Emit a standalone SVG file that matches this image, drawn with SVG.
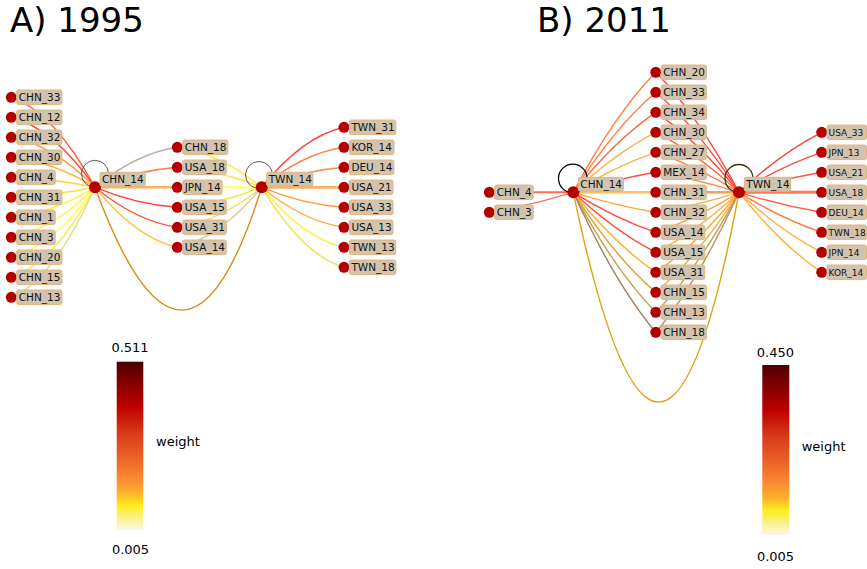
<svg xmlns="http://www.w3.org/2000/svg" width="867" height="569" viewBox="0 0 867 569">
<defs>
<linearGradient id="cmap" x1="0" y1="0" x2="0" y2="1">
<stop offset="0" stop-color="#4d0000"/>
<stop offset="0.14" stop-color="#8a0000"/>
<stop offset="0.27" stop-color="#c00000"/>
<stop offset="0.42" stop-color="#d83a18"/>
<stop offset="0.57" stop-color="#ec6228"/>
<stop offset="0.70" stop-color="#fa8c32"/>
<stop offset="0.78" stop-color="#ffb02a"/>
<stop offset="0.86" stop-color="#fcf020"/>
<stop offset="0.92" stop-color="#faf080"/>
<stop offset="1" stop-color="#fcf8e6"/>
</linearGradient>
</defs>
<style>
.t{font-family:"DejaVu Sans","Liberation Sans",sans-serif;font-size:10.5px;fill:#111}
.ts{font-family:"DejaVu Sans","Liberation Sans",sans-serif;font-size:9px;fill:#111}
.big{font-family:"DejaVu Sans","Liberation Sans",sans-serif;font-size:34px;fill:#000}
.cb{font-family:"DejaVu Sans","Liberation Sans",sans-serif;font-size:13px;fill:#000}
.nd{fill:#b50000}
.lb{fill:#d0c4b0;stroke:#e2b57a;stroke-width:1}
#edges path{fill:none;stroke-width:1.4}
#edges circle{fill:none}
</style>
<rect width="867" height="569" fill="#ffffff"/>
<text class="big" x="10" y="32">A) 1995</text>
<text class="big" x="537" y="32">B) 2011</text>

<g id="edges">
<!-- A: left column to CHN_14 -->
<path d="M11.3,97.3 Q53.15,110.8 95,187.3" stroke="#ff5540"/>
<path d="M11.3,117.3 Q53.15,127.8 95,187.3" stroke="#ff4a3a"/>
<path d="M11.3,137.3 Q53.15,144.8 95,187.3" stroke="#ff9a40"/>
<path d="M11.3,157.3 Q53.15,161.8 95,187.3" stroke="#ffb040"/>
<path d="M11.3,177.3 Q53.15,178.8 95,187.3" stroke="#ffd540"/>
<path d="M11.3,197.3 Q53.15,195.8 95,187.3" stroke="#ffe040"/>
<path d="M11.3,217.3 Q53.15,212.8 95,187.3" stroke="#fff040"/>
<path d="M11.3,237.3 Q53.15,229.8 95,187.3" stroke="#fff540"/>
<path d="M11.3,257.3 Q53.15,246.8 95,187.3" stroke="#ffff40"/>
<path d="M11.3,277.3 Q53.15,263.8 95,187.3" stroke="#f5ee40"/>
<path d="M11.3,297.3 Q53.15,280.8 95,187.3" stroke="#e0dc80"/>
<!-- A: CHN_14 to middle -->
<path d="M95,187.3 Q136.15,153.3 177.3,147.3" stroke="#b4b0a0"/>
<path d="M95,187.3 Q136.15,170.3 177.3,167.3" stroke="#ff8040"/>
<path d="M95,187.3 L177.3,187.3" stroke="#ffb060" style="stroke-width:2.6"/>
<path d="M95,187.3 Q136.15,204.3 177.3,207.3" stroke="#ff4a3a"/>
<path d="M95,187.3 Q136.15,221.3 177.3,227.3" stroke="#ff5a3a"/>
<path d="M95,187.3 Q136.15,238.3 177.3,247.3" stroke="#ffc440"/>
<!-- A: middle to TWN_14 -->
<path d="M177.3,147.3 Q219.5,153.3 261.7,187.3" stroke="#ffe840"/>
<path d="M177.3,167.3 Q219.5,170.3 261.7,187.3" stroke="#ffe040"/>
<path d="M177.3,187.3 L261.7,187.3" stroke="#ffff80" style="stroke-width:2.6"/>
<path d="M177.3,207.3 Q219.5,204.3 261.7,187.3" stroke="#f0e840"/>
<path d="M177.3,227.3 Q219.5,221.3 261.7,187.3" stroke="#e8e070"/>
<path d="M177.3,247.3 Q219.5,238.3 261.7,187.3" stroke="#d0c890"/>
<!-- A: TWN_14 to right column -->
<path d="M261.7,187.3 Q302.85,136.3 344,127.3" stroke="#ff4040"/>
<path d="M261.7,187.3 Q302.85,153.3 344,147.3" stroke="#ff8040"/>
<path d="M261.7,187.3 Q302.85,170.3 344,167.3" stroke="#ff9040"/>
<path d="M261.7,187.3 L344,187.3" stroke="#ffb060" style="stroke-width:2.8"/>
<path d="M261.7,187.3 Q302.85,204.3 344,207.3" stroke="#ffa040"/>
<path d="M261.7,187.3 Q302.85,221.3 344,227.3" stroke="#ffb040"/>
<path d="M261.7,187.3 Q302.85,238.3 344,247.3" stroke="#fff040"/>
<path d="M261.7,187.3 Q302.85,255.3 344,267.3" stroke="#e8e450"/>
<!-- A: arc and loops -->
<path d="M95,187.3 Q185,433 261.7,187.3" stroke="#d88a10"/>
<circle cx="95" cy="173.8" r="13.5" stroke="#333333" stroke-width="0.8"/>
<circle cx="259" cy="175" r="13.5" stroke="#333333" stroke-width="0.8"/>

<!-- B: left -->
<path d="M489.3,192.3 L573.3,192.3" stroke="#ff6a55" style="stroke-width:2"/>
<path d="M489.3,212.3 Q531.3,205.3 573.3,192.3" stroke="#ff7050"/>
<!-- B: CHN_14 to middle -->
<path d="M573.3,192.3 Q614.55,114.3 655.8,72.3" stroke="#ff8040"/>
<path d="M573.3,192.3 Q614.55,127.3 655.8,92.3" stroke="#ff8040"/>
<path d="M573.3,192.3 Q614.55,140.3 655.8,112.3" stroke="#ff6a40"/>
<path d="M573.3,192.3 Q614.55,153.3 655.8,132.3" stroke="#ffb040"/>
<path d="M573.3,192.3 Q614.55,166.3 655.8,152.3" stroke="#ffb040"/>
<path d="M573.3,192.3 Q614.55,179.3 655.8,172.3" stroke="#ff4a40"/>
<path d="M573.3,192.3 L655.8,192.3" stroke="#ffc060" style="stroke-width:2.4"/>
<path d="M573.3,192.3 Q614.55,205.3 655.8,212.3" stroke="#ffa840"/>
<path d="M573.3,192.3 Q614.55,218.3 655.8,232.3" stroke="#ff4a3a"/>
<path d="M573.3,192.3 Q614.55,231.3 655.8,252.3" stroke="#ff4a3a"/>
<path d="M573.3,192.3 Q614.55,244.3 655.8,272.3" stroke="#ffb030"/>
<path d="M573.3,192.3 Q614.55,257.3 655.8,292.3" stroke="#e0a030"/>
<path d="M573.3,192.3 Q614.55,270.3 655.8,312.3" stroke="#c8a050"/>
<path d="M573.3,192.3 Q614.55,283.3 655.8,332.3" stroke="#a08060"/>
<!-- B: middle to TWN_14 -->
<path d="M655.8,72.3 Q697.4,114.3 739,192.3" stroke="#ff4a40"/>
<path d="M655.8,92.3 Q697.4,127.3 739,192.3" stroke="#ff4a40"/>
<path d="M655.8,112.3 Q697.4,140.3 739,192.3" stroke="#ff4a40"/>
<path d="M655.8,132.3 Q697.4,153.3 739,192.3" stroke="#ff6040"/>
<path d="M655.8,152.3 Q697.4,166.3 739,192.3" stroke="#ff7a40"/>
<path d="M655.8,172.3 Q697.4,179.3 739,192.3" stroke="#ff9050"/>
<path d="M655.8,192.3 L739,192.3" stroke="#ff9a60" style="stroke-width:2.4"/>
<path d="M655.8,212.3 Q697.4,205.3 739,192.3" stroke="#ffb040"/>
<path d="M655.8,232.3 Q697.4,218.3 739,192.3" stroke="#ffa040"/>
<path d="M655.8,252.3 Q697.4,231.3 739,192.3" stroke="#ffb040"/>
<path d="M655.8,272.3 Q697.4,244.3 739,192.3" stroke="#ffa840"/>
<path d="M655.8,292.3 Q697.4,257.3 739,192.3" stroke="#f0b040"/>
<path d="M655.8,312.3 Q697.4,270.3 739,192.3" stroke="#c0a060"/>
<path d="M655.8,332.3 Q697.4,283.3 739,192.3" stroke="#b89060"/>
<!-- B: TWN_14 to right -->
<path d="M739,192.3 Q780.35,153.3 821.7,132.3" stroke="#ff4040"/>
<path d="M739,192.3 Q780.35,166.3 821.7,152.3" stroke="#ff4a40"/>
<path d="M739,192.3 Q780.35,179.3 821.7,172.3" stroke="#ff5a40"/>
<path d="M739,192.3 L821.7,192.3" stroke="#ff7a55" style="stroke-width:3"/>
<path d="M739,192.3 Q780.35,205.3 821.7,212.3" stroke="#ff6040"/>
<path d="M739,192.3 Q780.35,218.3 821.7,232.3" stroke="#ff7a40"/>
<path d="M739,192.3 Q780.35,231.3 821.7,252.3" stroke="#ffb040"/>
<path d="M739,192.3 Q780.35,244.3 821.7,272.3" stroke="#ffb040"/>
<!-- B: arc and loops -->
<path d="M573.3,192.3 Q661,612 739,192.3" stroke="#e0a010"/>
<circle cx="572.8" cy="178.5" r="14.3" stroke="#000000" stroke-width="1.3"/>
<circle cx="739" cy="178.5" r="14" stroke="#403010" stroke-width="1.3"/>
</g>

<!-- A nodes -->
<g id="a_CHN_33"><circle class="nd" cx="11.3" cy="97.3" r="5.5"/><rect class="lb" x="16.7" y="90" width="45.2" height="14.6" rx="2"/><text class="t" x="18.7" y="101.1">CHN_33</text></g>
<g id="a_CHN_12"><circle class="nd" cx="11.3" cy="117.3" r="5.5"/><rect class="lb" x="16.7" y="110" width="45.2" height="14.6" rx="2"/><text class="t" x="18.7" y="121.1">CHN_12</text></g>
<g id="a_CHN_32"><circle class="nd" cx="11.3" cy="137.3" r="5.5"/><rect class="lb" x="16.7" y="130" width="45.2" height="14.6" rx="2"/><text class="t" x="18.7" y="141.1">CHN_32</text></g>
<g id="a_CHN_30"><circle class="nd" cx="11.3" cy="157.3" r="5.5"/><rect class="lb" x="16.7" y="150" width="45.2" height="14.6" rx="2"/><text class="t" x="18.7" y="161.1">CHN_30</text></g>
<g id="a_CHN_4"><circle class="nd" cx="11.3" cy="177.3" r="5.5"/><rect class="lb" x="16.7" y="170" width="38.5" height="14.6" rx="2"/><text class="t" x="18.7" y="181.1">CHN_4</text></g>
<g id="a_CHN_31"><circle class="nd" cx="11.3" cy="197.3" r="5.5"/><rect class="lb" x="16.7" y="190" width="45.2" height="14.6" rx="2"/><text class="t" x="18.7" y="201.1">CHN_31</text></g>
<g id="a_CHN_1"><circle class="nd" cx="11.3" cy="217.3" r="5.5"/><rect class="lb" x="16.7" y="210" width="38.5" height="14.6" rx="2"/><text class="t" x="18.7" y="221.1">CHN_1</text></g>
<g id="a_CHN_3"><circle class="nd" cx="11.3" cy="237.3" r="5.5"/><rect class="lb" x="16.7" y="230" width="38.5" height="14.6" rx="2"/><text class="t" x="18.7" y="241.1">CHN_3</text></g>
<g id="a_CHN_20"><circle class="nd" cx="11.3" cy="257.3" r="5.5"/><rect class="lb" x="16.7" y="250" width="45.2" height="14.6" rx="2"/><text class="t" x="18.7" y="261.1">CHN_20</text></g>
<g id="a_CHN_15"><circle class="nd" cx="11.3" cy="277.3" r="5.5"/><rect class="lb" x="16.7" y="270" width="45.2" height="14.6" rx="2"/><text class="t" x="18.7" y="281.1">CHN_15</text></g>
<g id="a_CHN_13"><circle class="nd" cx="11.3" cy="297.3" r="5.5"/><rect class="lb" x="16.7" y="290" width="45.2" height="14.6" rx="2"/><text class="t" x="18.7" y="301.1">CHN_13</text></g>

<g id="a_CHN_14"><circle class="nd" cx="95" cy="187.3" r="6"/><rect class="lb" x="100" y="172.3" width="45.2" height="14" rx="2"/><text class="t" x="102" y="183.1">CHN_14</text></g>

<g id="a_CHN_18"><circle class="nd" cx="177.3" cy="147.3" r="5.5"/><rect class="lb" x="182.7" y="140" width="45.2" height="14.6" rx="2"/><text class="t" x="184.7" y="151.1">CHN_18</text></g>
<g id="a_USA_18"><circle class="nd" cx="177.3" cy="167.3" r="5.5"/><rect class="lb" x="182.7" y="160" width="43.6" height="14.6" rx="2"/><text class="t" x="184.7" y="171.1">USA_18</text></g>
<g id="a_JPN_14"><circle class="nd" cx="177.3" cy="187.3" r="5.5"/><rect class="lb" x="182.7" y="180" width="39.4" height="14.6" rx="2"/><text class="t" x="184.7" y="191.1">JPN_14</text></g>
<g id="a_USA_15"><circle class="nd" cx="177.3" cy="207.3" r="5.5"/><rect class="lb" x="182.7" y="200" width="43.6" height="14.6" rx="2"/><text class="t" x="184.7" y="211.1">USA_15</text></g>
<g id="a_USA_31"><circle class="nd" cx="177.3" cy="227.3" r="5.5"/><rect class="lb" x="182.7" y="220" width="43.6" height="14.6" rx="2"/><text class="t" x="184.7" y="231.1">USA_31</text></g>
<g id="a_USA_14"><circle class="nd" cx="177.3" cy="247.3" r="5.5"/><rect class="lb" x="182.7" y="240" width="43.6" height="14.6" rx="2"/><text class="t" x="184.7" y="251.1">USA_14</text></g>

<g id="a_TWN_14"><circle class="nd" cx="261.7" cy="187.3" r="6"/><rect class="lb" x="266.7" y="172.3" width="46.2" height="14" rx="2"/><text class="t" x="268.7" y="183.1">TWN_14</text></g>

<g id="a_TWN_31"><circle class="nd" cx="344" cy="127.3" r="5.5"/><rect class="lb" x="349.4" y="120" width="46.4" height="14.6" rx="2"/><text class="t" x="351.4" y="131.1">TWN_31</text></g>
<g id="a_KOR_14"><circle class="nd" cx="344" cy="147.3" r="5.5"/><rect class="lb" x="349.4" y="140" width="44.6" height="14.6" rx="2"/><text class="t" x="351.4" y="151.1">KOR_14</text></g>
<g id="a_DEU_14"><circle class="nd" cx="344" cy="167.3" r="5.5"/><rect class="lb" x="349.4" y="160" width="44.5" height="14.6" rx="2"/><text class="t" x="351.4" y="171.1">DEU_14</text></g>
<g id="a_USA_21"><circle class="nd" cx="344" cy="187.3" r="5.5"/><rect class="lb" x="349.4" y="180" width="43.6" height="14.6" rx="2"/><text class="t" x="351.4" y="191.1">USA_21</text></g>
<g id="a_USA_33"><circle class="nd" cx="344" cy="207.3" r="5.5"/><rect class="lb" x="349.4" y="200" width="43.6" height="14.6" rx="2"/><text class="t" x="351.4" y="211.1">USA_33</text></g>
<g id="a_USA_13"><circle class="nd" cx="344" cy="227.3" r="5.5"/><rect class="lb" x="349.4" y="220" width="43.6" height="14.6" rx="2"/><text class="t" x="351.4" y="231.1">USA_13</text></g>
<g id="a_TWN_13"><circle class="nd" cx="344" cy="247.3" r="5.5"/><rect class="lb" x="349.4" y="240" width="46.4" height="14.6" rx="2"/><text class="t" x="351.4" y="251.1">TWN_13</text></g>
<g id="a_TWN_18"><circle class="nd" cx="344" cy="267.3" r="5.5"/><rect class="lb" x="349.4" y="260" width="46.4" height="14.6" rx="2"/><text class="t" x="351.4" y="271.1">TWN_18</text></g>

<!-- B nodes -->
<g id="b_CHN_4"><circle class="nd" cx="489.3" cy="192.3" r="5.5"/><rect class="lb" x="494.7" y="185" width="38.5" height="14.6" rx="2"/><text class="t" x="496.7" y="196.1">CHN_4</text></g>
<g id="b_CHN_3"><circle class="nd" cx="489.3" cy="212.3" r="5.5"/><rect class="lb" x="494.7" y="205" width="38.5" height="14.6" rx="2"/><text class="t" x="496.7" y="216.1">CHN_3</text></g>

<g id="b_CHN_14"><circle class="nd" cx="573.3" cy="192.3" r="6"/><rect class="lb" x="578.3" y="177.3" width="45.2" height="14" rx="2"/><text class="t" x="580.3" y="188.1">CHN_14</text></g>

<g id="b_CHN_20"><circle class="nd" cx="655.8" cy="72.3" r="5.5"/><rect class="lb" x="661.2" y="65" width="45.2" height="14.6" rx="2"/><text class="t" x="663.2" y="76.1">CHN_20</text></g>
<g id="b_CHN_33"><circle class="nd" cx="655.8" cy="92.3" r="5.5"/><rect class="lb" x="661.2" y="85" width="45.2" height="14.6" rx="2"/><text class="t" x="663.2" y="96.1">CHN_33</text></g>
<g id="b_CHN_34"><circle class="nd" cx="655.8" cy="112.3" r="5.5"/><rect class="lb" x="661.2" y="105" width="45.2" height="14.6" rx="2"/><text class="t" x="663.2" y="116.1">CHN_34</text></g>
<g id="b_CHN_30"><circle class="nd" cx="655.8" cy="132.3" r="5.5"/><rect class="lb" x="661.2" y="125" width="45.2" height="14.6" rx="2"/><text class="t" x="663.2" y="136.1">CHN_30</text></g>
<g id="b_CHN_27"><circle class="nd" cx="655.8" cy="152.3" r="5.5"/><rect class="lb" x="661.2" y="145" width="45.2" height="14.6" rx="2"/><text class="t" x="663.2" y="156.1">CHN_27</text></g>
<g id="b_MEX_14"><circle class="nd" cx="655.8" cy="172.3" r="5.5"/><rect class="lb" x="661.2" y="165" width="45" height="14.6" rx="2"/><text class="t" x="663.2" y="176.1">MEX_14</text></g>
<g id="b_CHN_31"><circle class="nd" cx="655.8" cy="192.3" r="5.5"/><rect class="lb" x="661.2" y="185" width="45.2" height="14.6" rx="2"/><text class="t" x="663.2" y="196.1">CHN_31</text></g>
<g id="b_CHN_32"><circle class="nd" cx="655.8" cy="212.3" r="5.5"/><rect class="lb" x="661.2" y="205" width="45.2" height="14.6" rx="2"/><text class="t" x="663.2" y="216.1">CHN_32</text></g>
<g id="b_USA_14"><circle class="nd" cx="655.8" cy="232.3" r="5.5"/><rect class="lb" x="661.2" y="225" width="43.6" height="14.6" rx="2"/><text class="t" x="663.2" y="236.1">USA_14</text></g>
<g id="b_USA_15"><circle class="nd" cx="655.8" cy="252.3" r="5.5"/><rect class="lb" x="661.2" y="245" width="43.6" height="14.6" rx="2"/><text class="t" x="663.2" y="256.1">USA_15</text></g>
<g id="b_USA_31"><circle class="nd" cx="655.8" cy="272.3" r="5.5"/><rect class="lb" x="661.2" y="265" width="43.6" height="14.6" rx="2"/><text class="t" x="663.2" y="276.1">USA_31</text></g>
<g id="b_CHN_15"><circle class="nd" cx="655.8" cy="292.3" r="5.5"/><rect class="lb" x="661.2" y="285" width="45.2" height="14.6" rx="2"/><text class="t" x="663.2" y="296.1">CHN_15</text></g>
<g id="b_CHN_13"><circle class="nd" cx="655.8" cy="312.3" r="5.5"/><rect class="lb" x="661.2" y="305" width="45.2" height="14.6" rx="2"/><text class="t" x="663.2" y="316.1">CHN_13</text></g>
<g id="b_CHN_18"><circle class="nd" cx="655.8" cy="332.3" r="5.5"/><rect class="lb" x="661.2" y="325" width="45.2" height="14.6" rx="2"/><text class="t" x="663.2" y="336.1">CHN_18</text></g>

<g id="b_TWN_14"><circle class="nd" cx="739" cy="192.3" r="6"/><rect class="lb" x="744.3" y="177.3" width="46.2" height="14" rx="2"/><text class="t" x="746.3" y="188.1">TWN_14</text></g>

<g id="b_USA_33"><circle class="nd" cx="821.7" cy="132.3" r="5.5"/><rect class="lb" x="827.1" y="125" width="39.4" height="14.6" rx="2"/><text class="ts" x="828.6" y="135.6">USA_33</text></g>
<g id="b_JPN_13"><circle class="nd" cx="821.7" cy="152.3" r="5.5"/><rect class="lb" x="827.1" y="145" width="39.4" height="14.6" rx="2"/><text class="ts" x="828.6" y="155.6">JPN_13</text></g>
<g id="b_USA_21"><circle class="nd" cx="821.7" cy="172.3" r="5.5"/><rect class="lb" x="827.1" y="165" width="39.4" height="14.6" rx="2"/><text class="ts" x="828.6" y="175.6">USA_21</text></g>
<g id="b_USA_18"><circle class="nd" cx="821.7" cy="192.3" r="5.5"/><rect class="lb" x="827.1" y="185" width="39.4" height="14.6" rx="2"/><text class="ts" x="828.6" y="195.6">USA_18</text></g>
<g id="b_DEU_14"><circle class="nd" cx="821.7" cy="212.3" r="5.5"/><rect class="lb" x="827.1" y="205" width="39.4" height="14.6" rx="2"/><text class="ts" x="828.6" y="215.6">DEU_14</text></g>
<g id="b_TWN_18"><circle class="nd" cx="821.7" cy="232.3" r="5.5"/><rect class="lb" x="827.1" y="225" width="39.4" height="14.6" rx="2"/><text class="ts" x="828.6" y="235.6">TWN_18</text></g>
<g id="b_JPN_14"><circle class="nd" cx="821.7" cy="252.3" r="5.5"/><rect class="lb" x="827.1" y="245" width="39.4" height="14.6" rx="2"/><text class="ts" x="828.6" y="255.6">JPN_14</text></g>
<g id="b_KOR_14"><circle class="nd" cx="821.7" cy="272.3" r="5.5"/><rect class="lb" x="827.1" y="265" width="39.4" height="14.6" rx="2"/><text class="ts" x="828.6" y="275.6">KOR_14</text></g>

<!-- colorbars -->
<g id="colorbar_a">
<rect x="116.7" y="361.7" width="26.6" height="168.3" fill="url(#cmap)"/>
<text class="cb" x="130" y="351.7" text-anchor="middle">0.511</text>
<text class="cb" x="130.5" y="554" text-anchor="middle">0.005</text>
<text class="cb" x="156" y="445.5">weight</text>
</g>
<g id="colorbar_b">
<rect x="762.3" y="365" width="27" height="170" fill="url(#cmap)"/>
<text class="cb" x="775.4" y="357.3" text-anchor="middle">0.450</text>
<text class="cb" x="775.5" y="561" text-anchor="middle">0.005</text>
<text class="cb" x="801.7" y="450.5">weight</text>
</g>
</svg>
